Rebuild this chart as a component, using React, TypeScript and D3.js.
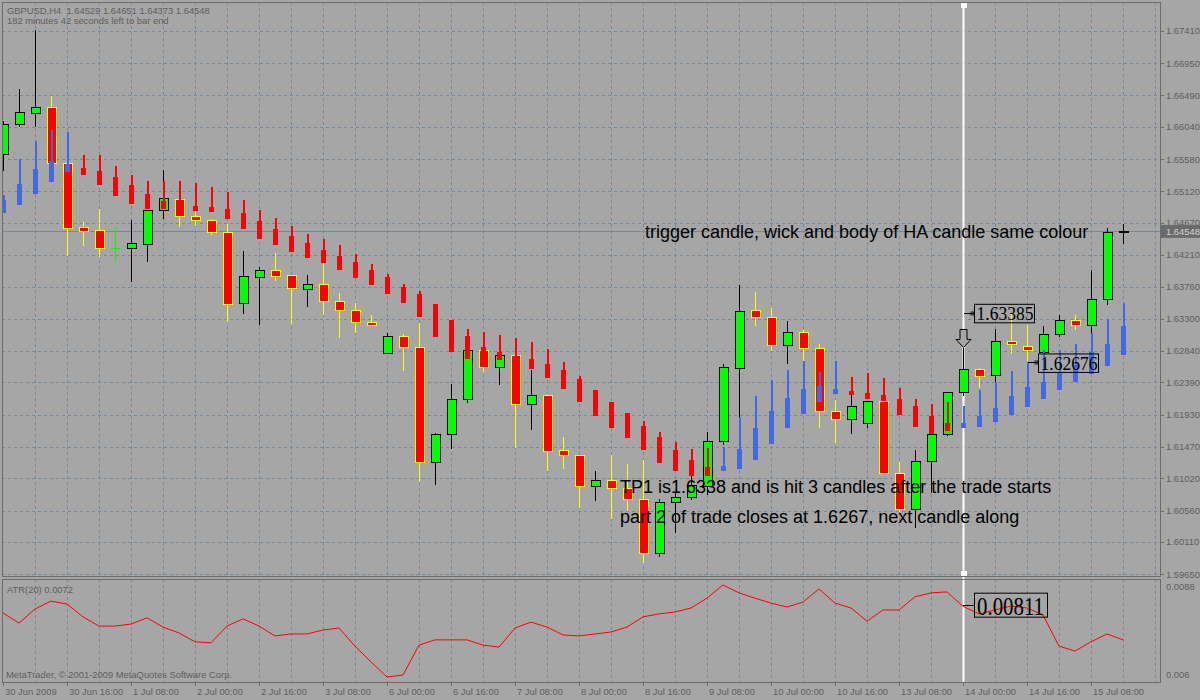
import React from "react";
import * as d3 from "d3";

// ---------- data ----------
const headerText = "GBPUSD,H4  1.64529 1.64651 1.64373 1.64548";
const timerText = "182 minutes 42 seconds left to bar end";
const atrTitle = "ATR(20) 0.0072";
const copyrightText = "MetaTrader, © 2001-2009 MetaQuotes Software Corp.";
const note1 = "trigger candle, wick and body of HA candle same colour";
const note2 = "TP1 is1.6338 and is hit 3 candles after the trade starts";
const note3 = "part 2 of trade closes at 1.6267, next candle along";

const timeLabels = [
  "30 Jun 2009", "30 Jun 16:00", "1 Jul 08:00", "2 Jul 00:00", "2 Jul 16:00", "3 Jul 08:00",
  "6 Jul 00:00", "6 Jul 16:00", "7 Jul 08:00", "8 Jul 00:00", "8 Jul 16:00", "9 Jul 08:00",
  "10 Jul 00:00", "10 Jul 16:00", "13 Jul 08:00", "14 Jul 00:00", "14 Jul 16:00", "15 Jul 08:00",
];
const priceTicks = [1.6741, 1.6695, 1.6649, 1.6604, 1.6558, 1.6512, 1.6467, 1.6421, 1.6376, 1.633,
  1.6284, 1.6239, 1.6193, 1.6147, 1.6102, 1.6056, 1.6011, 1.5965];
const atrTicks = [0.0088, 0.006];

const opens = [1.6565, 1.6608, 1.6623, 1.6632, 1.6552, 1.6461, 1.6456, 1.6431, 1.6430, 1.6436,
  1.6485, 1.6501, 1.6476, 1.6471, 1.6453, 1.6352, 1.6389, 1.6399, 1.6392, 1.6372,
  1.6379, 1.6354, 1.6342, 1.6324, 1.6281, 1.6304, 1.6289, 1.6124, 1.6164, 1.6215,
  1.6284, 1.6261, 1.6277, 1.6208, 1.6221, 1.6142, 1.6135, 1.6091, 1.6099, 1.6088,
  1.6072, 1.5995, 1.6068, 1.6075, 1.6091, 1.6154, 1.6259, 1.6342, 1.6332, 1.6292,
  1.6311, 1.6288, 1.6197, 1.6186, 1.6181, 1.6212, 1.6109, 1.6058, 1.6126, 1.6165,
  1.6224, 1.6257, 1.6249, 1.6298, 1.6290, 1.6282, 1.6308, 1.6327, 1.6320, 1.6358, 1.64529];
const highs = [1.6612, 1.6658, 1.6742, 1.6648, 1.6553, 1.6468, 1.6487, 1.6461, 1.6471, 1.6486,
  1.6542, 1.6502, 1.6484, 1.6472, 1.6466, 1.6427, 1.6404, 1.6424, 1.6393, 1.6392,
  1.6411, 1.6367, 1.6352, 1.6335, 1.6310, 1.6308, 1.6324, 1.6167, 1.6237, 1.6285,
  1.6285, 1.6278, 1.6302, 1.6257, 1.6222, 1.6161, 1.6136, 1.6112, 1.6135, 1.6123,
  1.6128, 1.6072, 1.6082, 1.6105, 1.6168, 1.6266, 1.6378, 1.6368, 1.6345, 1.6327,
  1.6314, 1.6294, 1.6214, 1.6221, 1.6213, 1.6213, 1.6126, 1.6143, 1.6166, 1.6225,
  1.6288, 1.6259, 1.6315, 1.6338, 1.6321, 1.6319, 1.6335, 1.6335, 1.6400, 1.6460, 1.64651];
const lows = [1.6541, 1.6604, 1.6604, 1.6551, 1.6420, 1.6434, 1.6418, 1.6411, 1.6382, 1.6411,
  1.6472, 1.6461, 1.6462, 1.6449, 1.6326, 1.6337, 1.6321, 1.6384, 1.6323, 1.6347,
  1.6335, 1.6302, 1.6310, 1.6319, 1.6279, 1.6256, 1.6097, 1.6092, 1.6144, 1.6210,
  1.6254, 1.6236, 1.6146, 1.6171, 1.6113, 1.6115, 1.6059, 1.6069, 1.6044, 1.6056,
  1.5981, 1.5990, 1.6024, 1.6071, 1.6078, 1.6149, 1.6190, 1.6320, 1.6284, 1.6266,
  1.6269, 1.6174, 1.6152, 1.6166, 1.6174, 1.6108, 1.6054, 1.6031, 1.6081, 1.6162,
  1.6219, 1.6231, 1.6240, 1.6280, 1.6269, 1.6269, 1.6304, 1.6314, 1.6307, 1.6349, 1.64373];
const closes = [1.6608, 1.6625, 1.6632, 1.6552, 1.6459, 1.6455, 1.6430, 1.6431, 1.6437, 1.6485,
  1.6502, 1.6476, 1.6471, 1.6453, 1.6351, 1.6391, 1.6399, 1.6391, 1.6373, 1.6379,
  1.6355, 1.6342, 1.6324, 1.6321, 1.6304, 1.6289, 1.6124, 1.6164, 1.6215, 1.6284,
  1.6261, 1.6277, 1.6208, 1.6221, 1.6141, 1.6135, 1.6090, 1.6099, 1.6088, 1.6072,
  1.5995, 1.6068, 1.6075, 1.6092, 1.6154, 1.6261, 1.6341, 1.6332, 1.6292, 1.6311,
  1.6288, 1.6197, 1.6186, 1.6204, 1.6212, 1.6109, 1.6058, 1.6126, 1.6165, 1.6224,
  1.6257, 1.6247, 1.6298, 1.6293, 1.6284, 1.6307, 1.6328, 1.6320, 1.6358, 1.6453, 1.64548];

const haOpens = [1.6481, 1.6492, 1.6508, 1.6525, 1.6539, 1.6545, 1.6541, 1.6532, 1.6521, 1.6508,
  1.6498, 1.6493, 1.6491, 1.6490, 1.6487, 1.6481, 1.6470, 1.6458, 1.6448, 1.6438,
  1.6428, 1.6420, 1.6411, 1.6400, 1.6389, 1.6376, 1.6366, 1.6351, 1.6328, 1.6305,
  1.6290, 1.6282, 1.6277, 1.6273, 1.6265, 1.6257, 1.6244, 1.6228, 1.6211, 1.6195,
  1.6177, 1.6161, 1.6143, 1.6128, 1.6118, 1.6112, 1.6115, 1.6128, 1.6151, 1.6174,
  1.6194, 1.6211, 1.6222, 1.6227, 1.6224, 1.6221, 1.6216, 1.6205, 1.6191, 1.6181,
  1.6174, 1.6176, 1.6183, 1.6193, 1.6204, 1.6216, 1.6228, 1.6240, 1.6251, 1.6263, 1.6278];
const haCloses = [1.6500, 1.6523, 1.6544, 1.6555, 1.6551, 1.6535, 1.6521, 1.6506, 1.6494, 1.6487,
  1.6487, 1.6480, 1.6484, 1.6483, 1.6472, 1.6458, 1.6444, 1.6435, 1.6426, 1.6417,
  1.6410, 1.6400, 1.6388, 1.6378, 1.6365, 1.6352, 1.6333, 1.6304, 1.6282, 1.6272,
  1.6268, 1.6271, 1.6262, 1.6258, 1.6245, 1.6230, 1.6211, 1.6191, 1.6174, 1.6159,
  1.6143, 1.6124, 1.6112, 1.6106, 1.6105, 1.6120, 1.6144, 1.6174, 1.6198, 1.6217,
  1.6230, 1.6234, 1.6230, 1.6221, 1.6216, 1.6212, 1.6193, 1.6176, 1.6166, 1.6169,
  1.6181, 1.6191, 1.6203, 1.6219, 1.6232, 1.6240, 1.6252, 1.6264, 1.6282, 1.6294, 1.6319];
const haHighs = [1.6507, 1.6558, 1.6584, 1.6600, 1.6597, 1.6564, 1.6564, 1.6548, 1.6535, 1.6527,
  1.6527, 1.6527, 1.6524, 1.6518, 1.6511, 1.6500, 1.6485, 1.6474, 1.6463, 1.6451,
  1.6444, 1.6435, 1.6423, 1.6408, 1.6394, 1.6379, 1.6370, 1.6351, 1.6328, 1.6315,
  1.6311, 1.6307, 1.6303, 1.6297, 1.6287, 1.6268, 1.6248, 1.6228, 1.6211, 1.6195,
  1.6184, 1.6168, 1.6154, 1.6144, 1.6145, 1.6147, 1.6190, 1.6220, 1.6243, 1.6257,
  1.6269, 1.6254, 1.6269, 1.6247, 1.6252, 1.6245, 1.6231, 1.6215, 1.6208, 1.6211,
  1.6205, 1.6228, 1.6240, 1.6256, 1.6267, 1.6285, 1.6285, 1.6294, 1.6309, 1.6329, 1.6353];
const haLows = [1.6481, 1.6492, 1.6508, 1.6525, 1.6539, 1.6535, 1.6521, 1.6506, 1.6494, 1.6487,
  1.6487, 1.6480, 1.6484, 1.6483, 1.6472, 1.6458, 1.6444, 1.6435, 1.6426, 1.6417,
  1.6410, 1.6400, 1.6388, 1.6378, 1.6365, 1.6352, 1.6333, 1.6304, 1.6282, 1.6272,
  1.6268, 1.6271, 1.6262, 1.6258, 1.6245, 1.6230, 1.6211, 1.6191, 1.6174, 1.6159,
  1.6143, 1.6124, 1.6112, 1.6106, 1.6105, 1.6112, 1.6115, 1.6128, 1.6151, 1.6174,
  1.6194, 1.6211, 1.6222, 1.6221, 1.6216, 1.6212, 1.6193, 1.6176, 1.6166, 1.6169,
  1.6174, 1.6176, 1.6183, 1.6193, 1.6204, 1.6216, 1.6228, 1.6240, 1.6251, 1.6263, 1.6278];

const atrValues = [0.00795, 0.00764, 0.00807, 0.00831, 0.00822, 0.00783, 0.00755, 0.00755, 0.00761, 0.00780,
  0.00752, 0.00734, 0.00707, 0.00704, 0.00755, 0.00777, 0.00755, 0.00725, 0.00731, 0.00731,
  0.00743, 0.00749, 0.00694, 0.00646, 0.00600, 0.00606, 0.00697, 0.00713, 0.00713, 0.00713,
  0.00697, 0.00691, 0.00749, 0.00767, 0.00752, 0.00728, 0.00725, 0.00731, 0.00737, 0.00752,
  0.00783, 0.00792, 0.00798, 0.00810, 0.00840, 0.00880, 0.00856, 0.00840, 0.00825, 0.00813,
  0.00828, 0.00868, 0.00825, 0.00810, 0.00770, 0.00804, 0.00804, 0.00844, 0.00856, 0.00859,
  0.00815, 0.00792, 0.00804, 0.00816, 0.00810, 0.00789, 0.00694, 0.00679, 0.00707, 0.00731,
  0.00713];

const bidPrice = 1.64548;
const signalBar = 60;
const priceLabelValues = [1.63385, 1.62676];
const priceLabelBars = [60, 64];
const atrLabelValue = 0.00811;
const arrowTipPrice = 1.6289;

// ---------- style ----------
const BG = "#a6a6a6";
const GRID = "#778899";
const FG = "#5e5e5e";
const FRAME = "#6c6c6c";
const UI_FONT = "'Liberation Sans', Arial, sans-serif";
const SERIF = "'Liberation Serif', 'Times New Roman', serif";

export default function App() {
  const W = 1200, H = 700;
  const L = 2, R = 1160, T = 2, MB = 576, AT = 579, AB = 682;
  const n = opens.length;

  const x = d3.scaleLinear().domain([0, n - 1]).range([3, 3 + 16 * (n - 1)]);
  const y = d3.scaleLinear().domain([1.5965, 1.6741]).range([574.3, 31]);
  const ya = d3.scaleLinear().domain([0.006, 0.0088]).range([677, 585]);

  const gridBars = d3.range(2, 73, 2);
  const labelBars = timeLabels.map((_, k) => k * 4);

  const atrLine = d3.line<number>().x((_, i) => x(i)).y((v) => ya(v));

  const sx = x(signalBar);

  return (
    <svg width={W} height={H} style={{ position: "absolute", left: 0, top: 0 }}
      xmlns="http://www.w3.org/2000/svg">
      <defs>
        <clipPath id="mainClip"><rect x={L} y={T} width={R - L} height={MB - T} /></clipPath>
        <clipPath id="atrClip"><rect x={L} y={AT} width={R - L} height={AB - AT} /></clipPath>
      </defs>
      <rect x={0} y={0} width={W} height={H} fill={BG} />

      {/* grid */}
      <g stroke={GRID} strokeWidth={1} strokeDasharray="3,3" shapeRendering="crispEdges">
        {priceTicks.map((p) => (
          <line key={"h" + p} x1={L} x2={R} y1={Math.round(y(p)) + 0.5} y2={Math.round(y(p)) + 0.5} />
        ))}
        {gridBars.map((b) => (
          <line key={"v" + b} x1={x(b) + 0.5} x2={x(b) + 0.5} y1={T} y2={MB} />
        ))}
        {gridBars.map((b) => (
          <line key={"va" + b} x1={x(b) + 0.5} x2={x(b) + 0.5} y1={AT} y2={AB} />
        ))}
      </g>

      {/* bid line */}
      <line x1={L} x2={R} y1={Math.round(y(bidPrice)) + 0.5} y2={Math.round(y(bidPrice)) + 0.5}
        stroke={GRID} strokeWidth={1} shapeRendering="crispEdges" />

      {/* signal vertical line */}
      <line x1={sx + 0.5} x2={sx + 0.5} y1={3} y2={AB} stroke="#ffffff" strokeWidth={2} />
      <rect x={sx - 2} y={3} width={6} height={5} fill="#ffffff" />
      <rect x={sx - 2} y={571} width={6} height={5} fill="#ffffff" />

      {/* candles */}
      <g clipPath="url(#mainClip)" shapeRendering="crispEdges">
        {opens.map((o, i) => {
          const c = closes[i];
          const cx = x(i);
          const doji = o === c;
          const bull = c > o;
          const wickColor = doji ? "#00ff00" : bull ? "#000000" : "#ffff00";
          const top = y(Math.max(o, c));
          const bot = y(Math.min(o, c));
          return (
            <g key={"c" + i}>
              <line x1={cx + 0.5} x2={cx + 0.5} y1={y(highs[i])} y2={y(lows[i])} stroke={wickColor} strokeWidth={1} />
              {doji ? (
                <line x1={cx - 4} x2={cx + 5} y1={Math.round(top) + 0.5} y2={Math.round(top) + 0.5} stroke="#00ff00" />
              ) : (
                <rect x={cx - 4} y={top} width={9} height={Math.max(bot - top, 1)}
                  fill={bull ? "#00ff00" : "#ff0000"} stroke={bull ? "#000000" : "#ffff00"} strokeWidth={1} />
              )}
            </g>
          );
        })}
      </g>

      {/* Heiken Ashi */}
      <g clipPath="url(#mainClip)" shapeRendering="crispEdges">
        {haOpens.map((o, i) => {
          const c = haCloses[i];
          const cx = x(i);
          const col = c >= o ? "#4169e1" : "#ff0000";
          const bt = y(Math.max(o, c));
          const bb = y(Math.min(o, c));
          return (
            <g key={"ha" + i} fill={col}>
              <rect x={cx - 0.5} y={y(haHighs[i])} width={2} height={Math.max(y(haLows[i]) - y(haHighs[i]), 1)} />
              <rect x={cx - 2} y={bt} width={5} height={Math.max(bb - bt, 2)} />
            </g>
          );
        })}
      </g>

      {/* arrow */}
      {(() => {
        const ty = y(arrowTipPrice);
        const p = `M${sx - 3},${ty - 18} H${sx + 4} V${ty - 8} H${sx + 8} L${sx + 0.5},${ty} L${sx - 7},${ty - 8} H${sx - 3} Z`;
        return <path d={p} fill={BG} stroke="#000" strokeWidth={1} />;
      })()}

      {/* price labels */}
      {priceLabelValues.map((v, k) => {
        const bx = x(priceLabelBars[k]);
        const py = y(v);
        return (
          <g key={"pl" + k}>
            <line x1={bx + 1} x2={bx + 11} y1={Math.round(py) + 0.5} y2={Math.round(py) + 0.5} stroke="#000" />
            <rect x={bx + 8} y={Math.round(py) - 1} width={3} height={3} fill="none" stroke="#000" strokeWidth={0.8} />
            <rect x={bx + 11.5} y={py - 8.5} width={60} height={18.5} fill="none" stroke="#000" strokeWidth={1} />
            <text x={bx + 13.5} y={py + 7.6} fontFamily={SERIF} fontSize={19.5} fill="#000"
              textLength={57} lengthAdjust="spacingAndGlyphs">{v.toFixed(5)}</text>
          </g>
        );
      })}

      {/* ATR */}
      <path d={atrLine(atrValues) || ""} fill="none" stroke="#ff0000" strokeWidth={1} clipPath="url(#atrClip)" />
      {(() => {
        const py = ya(atrLabelValue);
        return (
          <g>
            <line x1={sx} x2={sx + 12} y1={Math.round(py) - 2.5} y2={Math.round(py) - 2.5} stroke="#000" />
            <rect x={sx + 11.5} y={py - 14.5} width={73} height={24} fill="none" stroke="#000" strokeWidth={1} />
            <text x={sx + 14} y={py + 7.3} fontFamily={SERIF} fontSize={26} fill="#000"
              textLength={67} lengthAdjust="spacingAndGlyphs">{atrLabelValue.toFixed(5)}</text>
          </g>
        );
      })()}

      {/* notes */}
      <g fontFamily={UI_FONT} fontSize={18} fill="#000">
        <text x={645} y={238}>{note1}</text>
        <text x={620} y={493}>{note2}</text>
        <text x={620} y={523}>{note3}</text>
      </g>

      {/* frames */}
      <g fill="none" stroke={FRAME} strokeWidth={1} shapeRendering="crispEdges">
        <rect x={L + 0.5} y={T + 0.5} width={R - L} height={MB - T} />
        <rect x={L + 0.5} y={AT + 0.5} width={R - L} height={AB - AT} />
      </g>

      {/* right price axis */}
      <g fontFamily={UI_FONT} fontSize={9.4} fill={FG}>
        {priceTicks.map((p) => (
          <g key={"pt" + p}>
            <line x1={R} x2={R + 4} y1={Math.round(y(p)) + 0.5} y2={Math.round(y(p)) + 0.5} stroke={FRAME} shapeRendering="crispEdges" />
            <text x={1166} y={y(p) + 3.4}>{p.toFixed(5)}</text>
          </g>
        ))}
        <text x={1166} y={590}>{atrTicks[0].toString()}</text>
        <text x={1166} y={678}>{atrTicks[1].toString()}</text>
      </g>
      <rect x={1161} y={y(bidPrice) - 6.5} width={39} height={13} fill="#6b6b6b" />
      <text x={1166} y={y(bidPrice) + 3.6} fontFamily={UI_FONT} fontSize={9.4} fill="#d4d4d4">{bidPrice.toFixed(5)}</text>

      {/* time axis */}
      <g fontFamily={UI_FONT} fontSize={9.4} fill={FG}>
        {labelBars.map((b, k) => (
          <g key={"tl" + k}>
            <line x1={x(b) + 0.5} x2={x(b) + 0.5} y1={AB} y2={AB + 4} stroke={FRAME} shapeRendering="crispEdges" />
            <text x={x(b) + 2} y={695}>{timeLabels[k]}</text>
          </g>
        ))}
      </g>

      {/* header texts */}
      <g fontFamily={UI_FONT} fontSize={9.4} fill={FG}>
        <text x={7} y={14} xmlSpace="preserve">{headerText}</text>
        <text x={7} y={24}>{timerText}</text>
        <text x={7} y={593}>{atrTitle}</text>
        <text x={6} y={678}>{copyrightText}</text>
      </g>
    </svg>
  );
}
